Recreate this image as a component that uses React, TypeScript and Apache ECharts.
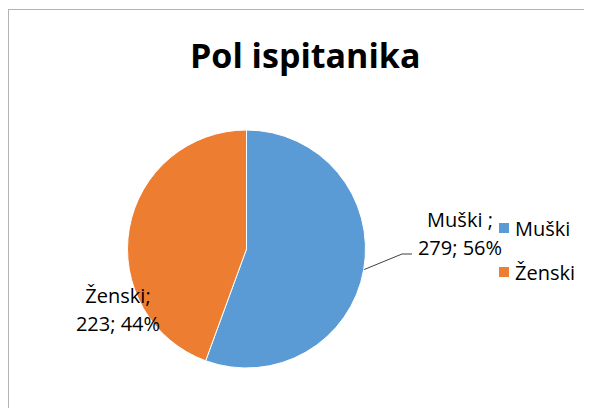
import React, { useEffect, useRef } from "react";
import * as echarts from "echarts";

const titleText = "Pol ispitanika";
const categories = ["Muški", "Ženski"];
const labelNames = ["Muški ", "Ženski"];
const values = [279, 223];
const percents = [56, 44];
const colors = ["#5B9BD5", "#ED7D31"];

export default function App() {
  const ref = useRef<HTMLDivElement>(null);
  useEffect(() => {
    if (!ref.current) return;
    const chart = echarts.init(ref.current, null, { renderer: "svg" });
    const font = "'Open Sans', sans-serif";
    chart.setOption({
      animation: false,
      title: {
        text: titleText,
        left: 181,
        top: 28,
        padding: 0,
        textStyle: { fontFamily: font, fontWeight: "bold", fontSize: 34, color: "#000" },
      },
      legend: {
        orient: "vertical",
        left: 488,
        top: 208,
        padding: 0,
        itemWidth: 12,
        itemHeight: 12,
        itemGap: 24,
        icon: "rect",
        data: categories,
        textStyle: { fontFamily: font, fontSize: 20, lineHeight: 20, color: "#000" },
      },
      series: [
        {
          type: "pie",
          center: [237.5, 239],
          radius: 119,
          startAngle: 90,
          clockwise: true,
          data: categories.map((c, i) => ({
            name: c,
            value: values[i],
            itemStyle: { color: colors[i] },
          })),
          itemStyle: { borderColor: "#fff", borderWidth: 1 },
          label: {
            show: true,
            position: "outside",
            overflow: "none",
            fontFamily: font,
            fontSize: 20,
            lineHeight: 28,
            color: "#000",
            align: "center",
            formatter: (p: any) =>
              `${labelNames[p.dataIndex]};\n${values[p.dataIndex]}; ${percents[p.dataIndex]}%`,
          },
          labelLine: { show: true, lineStyle: { color: "#404040", width: 1 } },
          labelLayout: (p: any) =>
            p.dataIndex === 0
              ? {
                  x: 451,
                  y: 223,
                  align: "center",
                  verticalAlign: "middle",
                  labelLinePoints: [
                    [354, 260],
                    [393, 244],
                    [403, 244],
                  ],
                }
              : {
                  x: 109,
                  y: 299,
                  align: "center",
                  verticalAlign: "middle",
                  labelLinePoints: [
                    [109, 299],
                    [109, 299],
                    [109, 299],
                  ],
                },
        },
      ],
    });
    return () => chart.dispose();
  }, []);
  return (
    <div
      style={{
        marginTop: 1,
        width: 584,
        height: 399,
        borderTop: "1px solid #b3b3b3",
        borderLeft: "1px solid #b3b3b3",
        boxSizing: "border-box",
      }}
    >
      <div ref={ref} style={{ width: 583, height: 398 }} />
    </div>
  );
}
